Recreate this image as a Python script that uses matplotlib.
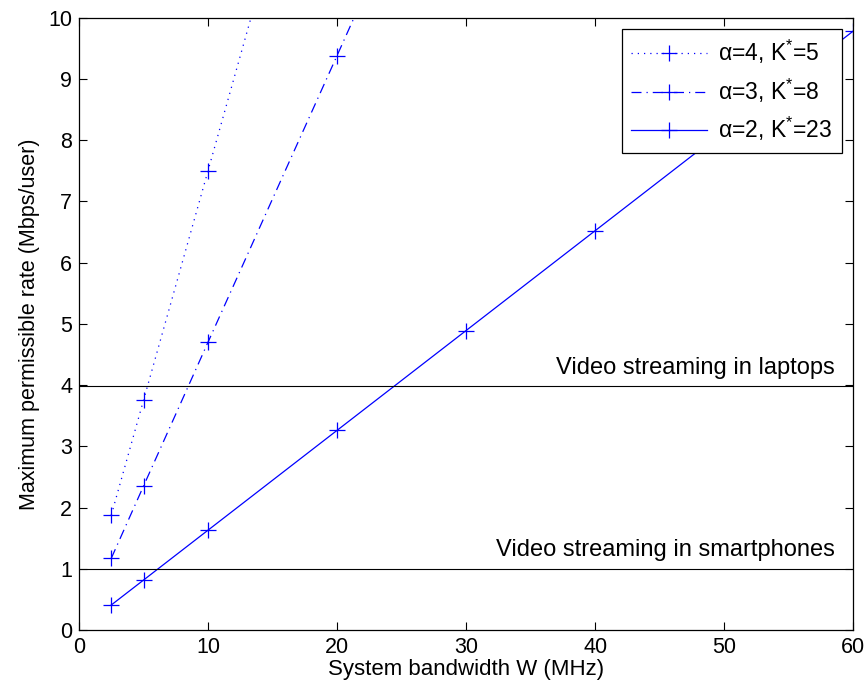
import matplotlib
matplotlib.use('Agg')
import matplotlib.pyplot as plt

plt.rcParams['font.family'] = ['Liberation Sans', 'DejaVu Sans']
plt.rcParams['mathtext.fontset'] = 'custom'
plt.rcParams['mathtext.rm'] = 'Liberation Sans'

# bandwidth (MHz) and max permissible rate (Mbps/user)
w_a4 = [2.5, 5, 10, 20]
rate_a4 = [1.875, 3.75, 7.5, 15.0]

w_a3 = [2.5, 5, 10, 20, 30]
rate_a3 = [1.17, 2.35, 4.70, 9.38, 14.07]

w_a2 = [2.5, 5, 10, 20, 30, 40, 50, 60]
rate_a2 = [0.408, 0.815, 1.63, 3.26, 4.89, 6.52, 8.15, 9.78]

laptop_rate = 3.98
phone_rate = 1.0

fig = plt.figure(figsize=(8.68, 6.92), dpi=100)
ax = fig.add_axes([0.091, 0.0896, 0.892, 0.885])

style = dict(color='blue', linewidth=0.9, marker='+', markersize=12, markeredgewidth=0.9)
ax.plot(w_a4, rate_a4, linestyle=(0, (1, 4)), label='α=4, K$^{*}$=5', **style)
ax.plot(w_a3, rate_a3, linestyle=(0, (8, 4, 1, 4)), label='α=3, K$^{*}$=8', **style)
ax.plot(w_a2, rate_a2, linestyle='-', label='α=2, K$^{*}$=23', **style)

ax.axhline(laptop_rate, color='black', linewidth=0.8)
ax.axhline(phone_rate, color='black', linewidth=0.8)
ax.text(58.6, laptop_rate + 0.12, 'Video streaming in laptops', ha='right', va='bottom', fontsize=17)
ax.text(58.6, phone_rate + 0.12, 'Video streaming in smartphones', ha='right', va='bottom', fontsize=17)

ax.set_xlim(0, 60)
ax.set_ylim(0, 10)
ax.set_xticks(range(0, 61, 10))
ax.set_yticks(range(0, 11))
ax.tick_params(direction='in', top=True, right=True, labelsize=15.5, length=6, pad=5)
for s in ax.spines.values():
    s.set_linewidth(0.9)

ax.set_xlabel('System bandwidth W (MHz)', fontsize=16, labelpad=1)
ax.set_ylabel('Maximum permissible rate (Mbps/user)', fontsize=15.5, labelpad=6)

leg = ax.legend(loc='upper right', fontsize=16.5, fancybox=False, edgecolor='black',
                framealpha=1, borderaxespad=0.5, handlelength=3.3, labelspacing=0.45,
                borderpad=0.4, handletextpad=0.5)
leg.get_frame().set_linewidth(0.9)

plt.savefig('out.png', dpi=100)
